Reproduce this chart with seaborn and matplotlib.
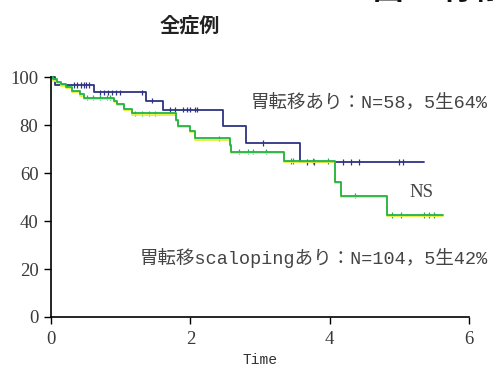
import numpy as np
import pandas as pd
import matplotlib
matplotlib.use("Agg")
import matplotlib.pyplot as plt
import matplotlib.patheffects as pe
import seaborn as sns

# Kaplan-Meier step data (time in years, survival in %)
blue_times = [0.0, 0.06, 0.62, 1.37, 1.61, 2.47, 2.80, 3.57, 5.35]
blue_surv = [100, 96.7, 93.6, 90.1, 86.4, 79.4, 72.5, 64.6, 64.6]
blue_censor = [0.33, 0.38, 0.43, 0.47, 0.50, 0.54, 0.70, 0.76, 0.82, 0.88, 0.93,
               0.99, 1.31, 1.45, 1.71, 1.78, 1.90, 1.95, 2.00, 2.06, 2.10, 3.05,
               3.68, 3.77, 4.19, 4.30, 4.42, 5.00, 5.05]

green_times = [0.0, 0.03, 0.08, 0.15, 0.22, 0.30, 0.42, 0.47, 0.90, 0.95, 1.05,
               1.16, 1.79, 1.83, 1.99, 2.07, 2.57, 2.59, 3.34, 4.07, 4.16, 4.82, 5.63]
green_surv = [100, 99.0, 98.0, 97.0, 96.0, 94.3, 92.8, 91.4, 90.0, 88.7, 86.8,
              84.9, 82.0, 79.7, 77.6, 74.4, 71.7, 68.9, 65.0, 56.4, 50.6, 42.5, 42.5]
green_censor = [0.52, 0.60, 0.70, 0.80, 0.85, 1.21, 1.30, 1.40, 1.50, 2.41, 2.70,
                2.83, 2.90, 3.08, 3.44, 3.48, 3.76, 3.97, 4.37, 4.90, 5.02, 5.35,
                5.42, 5.50]

groups = ["胃転移あり", "胃転移scalopingあり"]
colors = ["#2e3383", "#22b24a"]
x_ticks = [0, 2, 4, 6]
y_ticks = [0, 20, 40, 60, 80, 100]

label_blue = "胃転移あり：N=58，5生64%"
label_green = "胃転移scalopingあり：N=104，5生42%"


def step_value(times, surv, t):
    idx = np.searchsorted(times, t, side="right") - 1
    return surv[idx]


curves = pd.concat([
    pd.DataFrame({"time": blue_times, "surv": blue_surv, "group": groups[0]}),
    pd.DataFrame({"time": green_times, "surv": green_surv, "group": groups[1]}),
], ignore_index=True)

censors = pd.concat([
    pd.DataFrame({"time": blue_censor,
                  "surv": [step_value(blue_times, blue_surv, t) for t in blue_censor],
                  "group": groups[0]}),
    pd.DataFrame({"time": green_censor,
                  "surv": [step_value(green_times, green_surv, t) for t in green_censor],
                  "group": groups[1]}),
], ignore_index=True)

sns.set_style("white")
serif_cjk = ["Liberation Serif", "Noto Sans CJK JP"]
mono_cjk = ["Liberation Mono", "Noto Sans CJK JP"]
plt.rcParams["font.family"] = serif_cjk

fig = plt.figure(figsize=(4.93, 3.68), dpi=100)
ax = fig.add_axes([0.1034, 0.1386, 0.848, 0.652])

palette = dict(zip(groups, colors))
sns.lineplot(data=curves, x="time", y="surv", hue="group", palette=palette,
             drawstyle="steps-post", estimator=None, linewidth=1.3,
             legend=False, ax=ax, clip_on=False)
# yellowish fringe under the green curve
for line in ax.lines:
    if matplotlib.colors.to_hex(line.get_color()) == colors[1]:
        line.set_path_effects([
            pe.SimpleLineShadow(offset=(0, -0.9), shadow_color="#e6ef3a", alpha=1.0),
            pe.Normal(),
        ])
sns.scatterplot(data=censors, x="time", y="surv", hue="group", palette=palette,
                marker="|", s=14, linewidth=0.9, legend=False, ax=ax,
                clip_on=False)

ax.set_xlim(0, 6)
ax.set_ylim(0, 100)
ax.set_xticks(x_ticks)
ax.set_yticks(y_ticks)
ax.tick_params(axis="both", direction="out", length=5, width=1.0,
               color="black", labelsize=13.5, bottom=True, left=True)
ax.tick_params(axis="x", pad=5)
ax.tick_params(axis="y", pad=4)
for lbl in ax.get_xticklabels() + ax.get_yticklabels():
    lbl.set_color("#3a3a3a")
sns.despine(ax=ax)
for side in ["left", "bottom"]:
    ax.spines[side].set_color("black")
    ax.spines[side].set_linewidth(1.2)

ax.set_xlabel("Time", family="Liberation Mono", fontsize=10.5, color="#333333",
              labelpad=4)
ax.set_ylabel("")

ax.text(1.045, 0.896, label_blue, transform=ax.transAxes, ha="right",
        va="center", fontsize=13.3, color="#444444", family=mono_cjk)
ax.text(1.045, 0.246, label_green, transform=ax.transAxes, ha="right",
        va="center", fontsize=13.3, color="#444444", family=mono_cjk)
ax.text(0.885, 0.52, "NS", transform=ax.transAxes, ha="center", va="center",
        fontsize=13.5, color="#444444", family="Liberation Serif")

fig.text(190 / 493, 1 - 25 / 368, "全症例", ha="center", va="center",
         fontsize=14.5, fontweight="bold", color="#222222",
         family=["Noto Sans CJK JP", "DejaVu Sans"])
# bottom edge of a cut-off heading at the top right
fig.text(373 / 493, 1 + 1 / 368, "図 5  胃転移", ha="left", va="baseline",
         fontsize=22, fontweight="bold", color="#111111",
         family=["Noto Sans CJK JP", "DejaVu Sans"])

fig.savefig("out.png", dpi=100)
